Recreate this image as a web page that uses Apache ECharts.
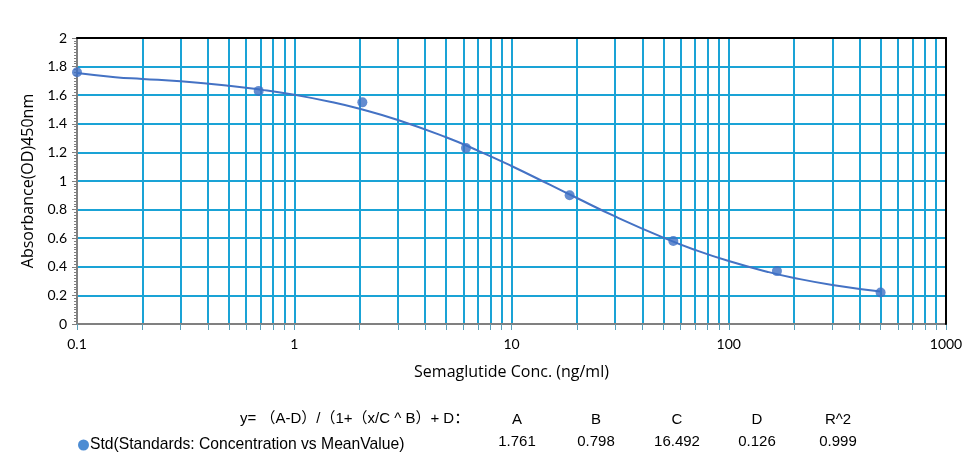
<!DOCTYPE html>
<html>
<head>
<meta charset="utf-8">
<script src="https://cdn.jsdelivr.net/npm/echarts@6/dist/echarts.min.js"></script>
<style>
html,body{margin:0;padding:0;background:#fff;}
#chart{width:971px;height:470px;}
</style>
</head>
<body>
<div id="chart"></div>
<script>
// Standard points (concentration, mean OD)
var stdConc = [0.1, 0.686, 2.058, 6.173, 18.52, 55.56, 166.7, 500];
var stdOD = [1.76, 1.63, 1.55, 1.23, 0.90, 0.58, 0.37, 0.22];
// Fitted curve
var curveConc = [0.1, 0.15, 0.2, 0.3, 0.5, 0.7, 1, 1.5, 2, 3, 5, 7, 10, 15, 20, 30, 50, 70, 100, 150, 200, 300, 500];
var curveOD = [1.755, 1.726, 1.714, 1.697, 1.666, 1.639, 1.603, 1.551, 1.505, 1.427, 1.306, 1.213, 1.105, 0.974, 0.881, 0.752, 0.604, 0.518, 0.440, 0.366, 0.322, 0.273, 0.227];
// Axis ticks
var xGridValues = [0.1,0.2,0.3,0.4,0.5,0.6,0.7,0.8,0.9,1,2,3,4,5,6,7,8,9,10,20,30,40,50,60,70,80,90,100,200,300,400,500,600,700,800,900,1000];
var xLabelValues = [0.1, 1, 10, 100, 1000];
// Fit parameter table
var equationText = 'y= （A-D）/（1+（x/C ^ B）+ D：';
var paramNames = ['A', 'B', 'C', 'D', 'R^2'];
var paramValues = ['1.761', '0.798', '16.492', '0.126', '0.999'];
var legendName = 'Std(Standards: Concentration vs MeanValue)';

var gridColor = '#1AA3D6';
var chart = echarts.init(document.getElementById('chart'), null, {renderer: 'canvas'});

var paramX = [517, 596, 677, 757, 838];
var graphics = [{
  type: 'text', x: 240, y: 419,
  style: {text: equationText, font: '15px "Liberation Sans", "Noto Sans CJK SC", sans-serif', fill: '#000', verticalAlign: 'middle'}
}];
paramNames.forEach(function (n, i) {
  graphics.push({type: 'text', x: paramX[i], y: 420, style: {text: n, font: '15px "Liberation Sans", sans-serif', fill: '#000', align: 'center', verticalAlign: 'middle'}});
  graphics.push({type: 'text', x: paramX[i], y: 442, style: {text: paramValues[i], font: '15px "Liberation Sans", sans-serif', fill: '#000', align: 'center', verticalAlign: 'middle'}});
});

chart.setOption({
  animation: false,
  backgroundColor: '#fff',
  grid: {left: 77, right: 25, top: 38, bottom: 146, containLabel: false},
  legend: {
    data: [{name: legendName, itemStyle: {color: '#1F6FC8'}}], left: 73, top: 432, icon: 'circle', itemWidth: 11, itemHeight: 11, itemGap: 4,
    textStyle: {fontFamily: '"Liberation Sans", sans-serif', fontSize: 15.7, color: '#000', padding: [0,0,0,-4]}
  },
  graphic: graphics,
  xAxis: [{
    type: 'log', logBase: 10, min: 0.1, max: 1000,
    name: 'Semaglutide Conc. (ng/ml)', nameLocation: 'middle', nameGap: 40,
    nameTextStyle: {fontFamily: '"Open Sans", sans-serif', fontSize: 16, color: '#000'},
    axisLine: {onZero: false, lineStyle: {color: '#808080', width: 2}},
    axisTick: {show: true, length: 6, customValues: xGridValues, lineStyle: {color: '#5A9FB8', width: 1}},
    axisLabel: {customValues: xLabelValues, fontFamily: 'Lato, sans-serif', fontSize: 14, color: '#000', margin: 13,
      formatter: function (v) { return String(v); }},
    splitLine: {show: true, lineStyle: {color: gridColor, width: 2}},
    minorTick: {show: false}
  }, {
    type: 'log', logBase: 10, min: 0.1, max: 1000, position: 'top', z: 5,
    axisLine: {show: true, onZero: false, lineStyle: {color: '#000', width: 2}},
    axisTick: {show: false}, axisLabel: {show: false}, splitLine: {show: false}
  }],
  yAxis: [{
    type: 'value', min: 0, max: 2, interval: 0.2,
    name: 'Absorbance(OD)450nm', nameLocation: 'middle', nameGap: 41,
    nameTextStyle: {fontFamily: '"Open Sans", sans-serif', fontSize: 16, color: '#000'},
    axisLine: {show: true, onZero: false, lineStyle: {color: '#808080', width: 2}},
    axisTick: {show: true, length: 5, lineStyle: {color: '#808080'}},
    minorTick: {show: true, splitNumber: 10, length: 3, lineStyle: {color: '#808080'}},
    axisLabel: {fontFamily: 'Lato, sans-serif', fontSize: 14, color: '#000', margin: 10},
    splitLine: {show: true, lineStyle: {color: gridColor, width: 2}}
  }, {
    type: 'value', min: 0, max: 2, position: 'right', z: 5,
    axisLine: {show: true, onZero: false, lineStyle: {color: '#000', width: 2}},
    axisTick: {show: false}, axisLabel: {show: false}, splitLine: {show: false}
  }],
  series: [{
    type: 'line', name: 'fit', data: curveConc.map(function (c, i) { return [c, curveOD[i]]; }),
    smooth: true, showSymbol: false, lineStyle: {color: '#4472C4', width: 2}, z: 3
  }, {
    type: 'scatter', name: legendName, data: stdConc.map(function (c, i) { return [c, stdOD[i]]; }),
    symbolSize: 10, itemStyle: {color: '#3D6FC4'}, z: 4
  }]
});
</script>
</body>
</html>
